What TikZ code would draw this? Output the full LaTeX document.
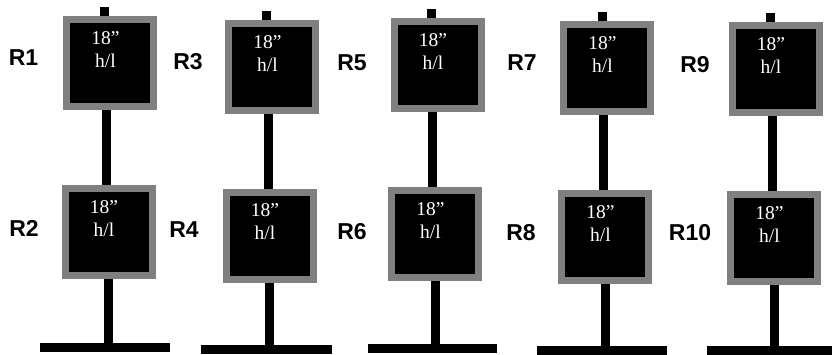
\documentclass[tikz,border=0pt]{standalone}
\usepackage{fontspec}
\setmainfont{Liberation Serif}
\newfontfamily\lblfont{Liberation Sans}
\definecolor{framegray}{RGB}{128,128,128}
\begin{document}
\begin{tikzpicture}[x=1pt,y=-1pt,
  frame/.style={draw=framegray,fill=black,line width=7pt,minimum width=87pt,minimum height=87pt,inner sep=0pt},
  post/.style={line width=9pt,black},
  basebar/.style={fill=black,inner sep=0pt,minimum height=9pt},
  txt/.style={text=white,font=\fontsize{19.5}{23}\selectfont,anchor=base,inner sep=0pt},
  rlbl/.style={font=\lblfont\bfseries\fontsize{23}{27}\selectfont,inner sep=0pt}]
\useasboundingbox (0,0) rectangle (832,354);
\foreach \i/\tx/\ty/\bx/\by/\sc/\mc/\lc/\bl/\br/\bt in {
  1/110/63/108.5/232/104.5/106/108/40/170/343,
  2/272/67/269.5/235.5/266.5/268/269.5/201/332/345,
  3/437.5/65/435/234/431.5/432.8/435.5/368/497/344,
  4/607/68/605/237/602/603/605.5/537/667/346,
  5/775.5/69/774/238/770.5/772/774/707/832/346}{
  \node[frame] (t\i) at (\tx,\ty) {};
  \node[frame] (b\i) at (\bx,\by) {};
  \node[basebar,minimum width={\br-\bl}] (base\i) at ({(\bl+\br)/2},{\bt+4.5}) {};
  \coordinate (stub\i) at (\sc,{\ty-56});
  \draw[post] (stub\i) -- (\sc,{\ty-47}) coordinate (ts\i);
  \draw[post] (\mc,{\ty+47}) -- (\mc,{\by-47});
  \draw[post] (\lc,{\by+47}) -- (\lc,{\bt});
  \node[txt] (t\i a) at ({\tx-4.5},{\ty-47+28}) {18”};
  \node[txt] (t\i b) at ({\tx-4.5},{\ty-47+51}) {h/l};
  \node[txt] (b\i a) at ({\bx-4.5},{\by-47+28}) {18”};
  \node[txt] (b\i b) at ({\bx-4.5},{\by-47+51}) {h/l};
}
\node[rlbl] (r1) at (23.5,57.5) {R1};
\node[rlbl] (r2) at (24,228) {R2};
\node[rlbl] (r3) at (188,62) {R3};
\node[rlbl] (r4) at (184,230) {R4};
\node[rlbl] (r5) at (352,63) {R5};
\node[rlbl] (r6) at (352,232) {R6};
\node[rlbl] (r7) at (522,63) {R7};
\node[rlbl] (r8) at (521,233) {R8};
\node[rlbl] (r9) at (695,65) {R9};
\node[rlbl] (r10) at (690,233) {R10};
\end{tikzpicture}
\end{document}
